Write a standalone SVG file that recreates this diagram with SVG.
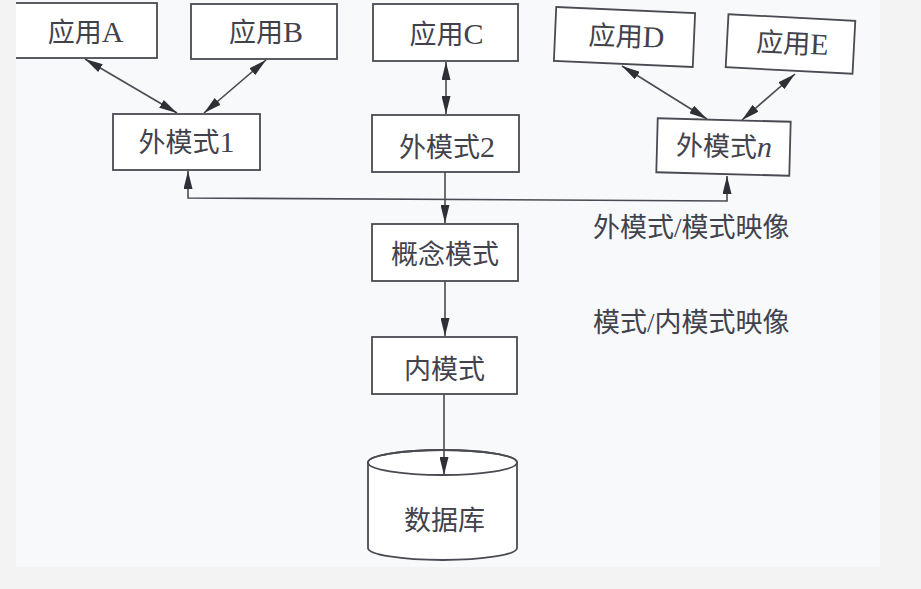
<svg xmlns="http://www.w3.org/2000/svg" width="921" height="589" viewBox="0 0 921 589">
  <defs>
    <marker id="ah" markerUnits="userSpaceOnUse" markerWidth="18" markerHeight="9" refX="18" refY="4.5" orient="auto-start-reverse">
      <path d="M0,0 L18,4.5 L0,9 z" fill="#2f2f36"/>
    </marker>
    <clipPath id="photo">
      <rect x="16" y="0" width="864" height="567"/>
    </clipPath>
  </defs>
  <style>
    .box { fill: #ffffff; stroke: #4a4a52; stroke-width: 1.8; }
    .lbl { font-family: "Liberation Serif", "Noto Sans CJK SC", serif; font-size: 27px; fill: #42424c; text-anchor: middle; }
    .side { font-family: "Liberation Serif", "Noto Sans CJK SC", serif; font-size: 27px; fill: #42424c; }
    .lat { font-size: 30px; }
    .con { fill: none; stroke: #4a4a52; stroke-width: 1.6; }
  </style>
  <rect x="0" y="0" width="921" height="589" fill="#f3f3f3"/>
  <rect x="16" y="0" width="864" height="567" fill="#f7f9fb"/>
  <g clip-path="url(#photo)">
    <g id="appA">
      <rect class="box" x="8" y="3" width="149" height="55"/>
      <text class="lbl" x="85.5" y="42">应用<tspan class="lat">A</tspan></text>
    </g>
    <g id="appB">
      <rect class="box" x="191" y="4" width="146" height="55"/>
      <text class="lbl" x="266" y="42">应用<tspan class="lat">B</tspan></text>
    </g>
    <g id="appC">
      <rect class="box" x="373" y="4" width="145" height="57"/>
      <text class="lbl" x="446.5" y="44">应用<tspan class="lat">C</tspan></text>
    </g>
    <g id="appD" transform="rotate(2.5 624.5 37)">
      <rect class="box" x="555" y="10" width="139" height="54"/>
      <text class="lbl" x="626.5" y="46">应用<tspan class="lat">D</tspan></text>
    </g>
    <g id="appE" transform="rotate(3 790.5 44)">
      <rect class="box" x="727" y="17.5" width="127" height="53"/>
      <text class="lbl" x="792.5" y="53">应用<tspan class="lat">E</tspan></text>
    </g>
    <g id="ext1">
      <rect class="box" x="113" y="114" width="147" height="56"/>
      <text class="lbl" x="186.5" y="152">外模式<tspan class="lat">1</tspan></text>
    </g>
    <g id="ext2">
      <rect class="box" x="372" y="115" width="147" height="57"/>
      <text class="lbl" x="447" y="157">外模式<tspan class="lat">2</tspan></text>
    </g>
    <g id="extn" transform="rotate(1.5 723.5 147)">
      <rect class="box" x="657" y="120" width="133" height="54"/>
      <text class="lbl" x="724" y="156">外模式<tspan class="lat" font-style="italic">n</tspan></text>
    </g>
    <g id="conceptual">
      <rect class="box" x="372" y="224" width="146" height="57"/>
      <text class="lbl" x="445" y="264">概念模式</text>
    </g>
    <g id="internal">
      <rect class="box" x="372" y="337" width="145" height="57"/>
      <text class="lbl" x="444.5" y="379">内模式</text>
    </g>
    <g id="database">
      <path class="box" d="M368,462.5 L368,548 A74.5,12 0 0 0 517,548 L517,462.5 A74.5,12.5 0 0 0 368,462.5 z"/>
      <ellipse cx="442.5" cy="462.5" rx="74.5" ry="12.5" fill="none" stroke="#4a4a52" stroke-width="1.8"/>
      <text class="lbl" x="444.5" y="530" font-size="28">数据库</text>
    </g>
    <g id="connectors">
      <line class="con" x1="85" y1="59" x2="177" y2="113" marker-start="url(#ah)" marker-end="url(#ah)"/>
      <line class="con" x1="266" y1="60" x2="204" y2="113" marker-start="url(#ah)" marker-end="url(#ah)"/>
      <line class="con" x1="446" y1="62" x2="446" y2="114" marker-start="url(#ah)" marker-end="url(#ah)"/>
      <line class="con" x1="622" y1="66" x2="707" y2="119" marker-start="url(#ah)" marker-end="url(#ah)"/>
      <line class="con" x1="795" y1="74" x2="742" y2="120" marker-start="url(#ah)" marker-end="url(#ah)"/>
      <polyline class="con" points="188,171 188,198 727,201 727,176" marker-start="url(#ah)" marker-end="url(#ah)"/>
      <line class="con" x1="445" y1="172" x2="445" y2="223" marker-end="url(#ah)"/>
      <line class="con" x1="445" y1="281" x2="445" y2="336" marker-end="url(#ah)"/>
      <line class="con" x1="444" y1="394" x2="444" y2="475" marker-end="url(#ah)"/>
    </g>
    <text class="side" x="593" y="237">外模式/模式映像</text>
    <text class="side" x="593" y="332">模式/内模式映像</text>
  </g>
</svg>
